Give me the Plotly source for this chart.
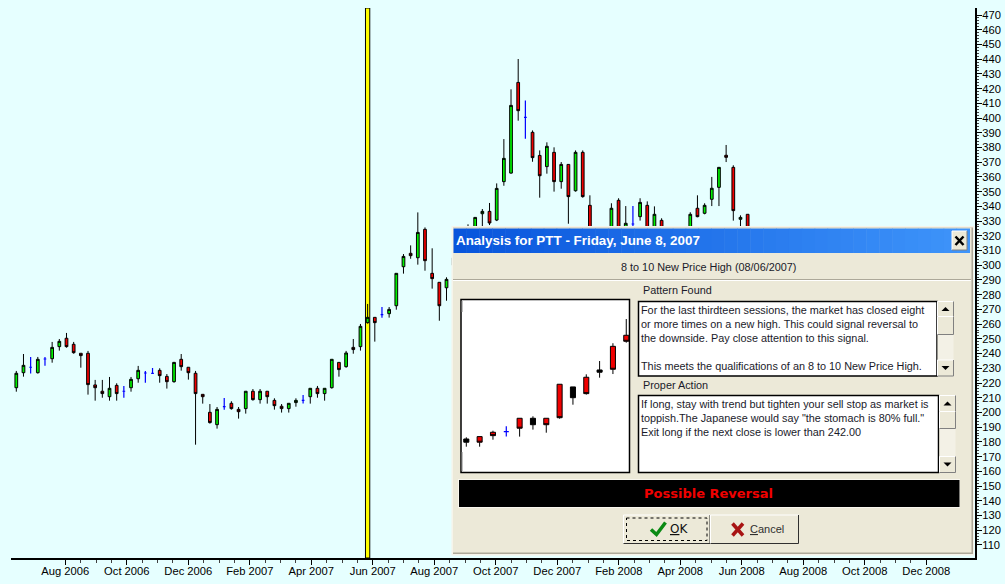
import plotly.graph_objects as go

# ---------- weekly price bars ----------
bar_open = [216.8,227.0,230.7,227.0,236.3,236.5,244.7,250.4,246.3,240.2,240.2,218.7,214.4,210.7,218.4,214.4,216.8,222.9,226.8,226.6,
            228.6,224.5,220.9,236.1,230.7,226.6,212.3,200.1,191.7,204.0,206.2,202.1,202.6,214.4,208.7,214.4,208.2,204.2,202.6,206.7,
            208.2,210.7,216.4,212.8,216.8,234.0,231.1,244.2,244.7,261.0,264.6,266.4,267.1,272.5,299.0,308.1,305.1,324.4,294.5,288.4,
            284.7,300.0,305.0,312.0,318.0,335.0,336.6,330.7,356.8,362.6,424.2,400.5,390.3,374.6,367.0,376.7,356.8,368.5,350.6,376.7,
            340.7,305.0,300.0,318.0,344.1,318.0,328.0,333.0,340.7,318.0,330.5,305.0,300.0,305.0,318.0,338.7,335.3,344.8,352.9,374.7,
            366.5,331.2,334.6]
bar_close = [226.6,232.0,230.7,236.1,236.3,244.2,248.3,244.7,240.6,238.6,218.9,216.8,212.8,216.4,212.8,214.4,222.5,228.6,226.8,226.6,
             225.0,220.9,234.0,231.1,227.0,212.8,210.7,193.1,202.1,204.0,202.6,200.5,214.4,208.7,214.4,210.7,204.6,202.6,206.2,208.2,
             208.2,216.4,212.8,216.4,236.1,229.1,240.4,242.7,258.5,264.6,261.0,266.4,270.0,294.5,306.0,306.5,322.3,303.1,290.9,272.5,
             290.4,305.0,300.0,318.0,332.5,336.6,328.7,352.2,372.6,408.6,405.0,400.5,373.1,360.8,380.8,356.8,368.5,346.6,376.7,346.6,
             320.0,300.0,305.0,338.7,315.0,328.5,328.0,342.7,318.0,334.6,318.0,300.0,305.0,310.0,334.6,333.0,340.7,352.3,366.5,373.3,
             337.1,332.5,318.0]
bar_high = [228.2,239.7,237.7,237.7,237.7,247.9,249.9,254.0,247.9,240.2,241.8,222.1,222.1,224.1,219.8,218.0,224.1,231.6,228.2,230.2,
            230.0,226.1,234.3,239.7,230.7,228.2,212.3,205.7,203.7,209.8,207.6,203.7,214.4,215.9,215.9,214.4,209.6,205.7,206.2,209.6,
            211.9,216.4,218.0,216.4,236.1,234.0,241.8,249.9,260.1,273.7,264.6,271.6,271.6,294.5,307.6,313.5,335.9,325.7,311.5,288.4,
            291.8,308.0,309.0,327.8,332.5,338.2,342.3,355.6,385.7,419.5,440.1,412.0,391.6,378.0,383.5,380.1,370.1,368.5,378.0,378.0,
            347.5,308.0,308.0,342.1,345.5,340.2,340.2,345.5,343.4,340.0,331.9,308.0,308.0,310.0,336.0,347.5,342.1,360.0,366.5,381.7,
            367.9,333.9,334.6]
bar_low = [214.1,224.3,226.4,226.4,231.8,233.8,242.0,244.0,239.9,230.4,212.1,208.0,210.0,208.0,208.0,210.0,214.1,220.2,220.2,226.4,
           220.2,216.2,220.2,228.4,222.3,178.1,206.0,192.4,189.0,201.9,201.9,195.8,199.2,208.0,206.0,206.0,201.9,199.9,199.9,203.9,
           206.0,206.0,210.0,208.0,216.2,224.3,230.4,239.9,242.0,260.3,248.1,264.4,264.4,269.8,294.3,304.4,300.4,296.3,284.1,262.3,
           275.9,295.0,295.0,305.0,314.0,325.0,327.3,330.0,354.0,362.2,398.2,386.0,370.3,345.9,362.2,350.0,352.0,328.2,350.0,345.9,
           315.0,295.0,295.0,312.0,310.0,312.0,320.0,330.3,312.0,312.0,312.0,295.0,295.0,300.0,314.0,332.6,334.6,340.2,340.2,370.1,
           330.3,320.0,314.0]

x_labels = ["Aug 2006","Oct 2006","Dec 2006","Feb 2007","Apr 2007","Jun 2007","Aug 2007","Oct 2007",
            "Dec 2007","Feb 2008","Apr 2008","Jun 2008","Aug 2008","Oct 2008","Dec 2008"]
y_labels = list(range(110, 480, 10))
marked_week = 49

# ---------- daily bars in the small pattern picture ----------
mini_open = [177.9,181.9,185.0,185.4,195.0,190.4,195.0,219.3,209.7,224.3,227.9,246.4,254.3]
mini_close = [180.2,177.9,182.6,185.4,187.9,195.0,190.4,195.4,217.4,212.6,229.5,230.0,250.0]
mini_high = [181.4,181.9,186.1,189.3,195.0,196.4,195.0,219.3,217.4,226.4,235.9,248.6,265.9]
mini_low = [174.7,174.7,179.7,181.9,181.9,186.9,184.7,194.7,204.7,211.9,224.0,226.6,249.0]

# ---------- pixel layout ----------
L, R, T, B = 11, 975, 8, 558
W, H = 1005, 584
X0, DX = 16.3, 7.17          # first bar and spacing of the weekly bars
Y0, DY = 15.0, 1.472         # pixel of 470, pixels per price unit
BG = "#E6FFFF"
PANEL = "#ECE9D8"
GREEN, RED, BLUE = "#00F000", "#F00000", "#0000FF"
CLEAR = "rgba(0,0,0,0)"


def week_at(px):
    return (px - X0) / DX


def price_at(py):
    return 470 - (py - Y0) / DY


TICK_STEP = 15.375
major_px = [65.3 + 4 * TICK_STEP * i for i in range(len(x_labels))]
minor_px = [65.3 + TICK_STEP * i for i in range(4 * (len(x_labels) - 1) + 1)]

weeks = list(range(len(bar_open)))
is_doji = [o == c for o, c in zip(bar_open, bar_close)]
body = [i for i in weeks if not is_doji[i]]
doji = [i for i in weeks if is_doji[i]]

fig = go.Figure()
fig.add_trace(go.Candlestick(
    x=body, open=[bar_open[i] for i in body], high=[bar_high[i] for i in body],
    low=[bar_low[i] for i in body], close=[bar_close[i] for i in body],
    increasing=dict(fillcolor=GREEN, line=dict(color="black", width=1)),
    decreasing=dict(fillcolor=RED, line=dict(color="black", width=1)),
    whiskerwidth=0, xaxis="x", yaxis="y", showlegend=False))
fig.add_trace(go.Candlestick(
    x=doji, open=[bar_open[i] for i in doji], high=[bar_high[i] for i in doji],
    low=[bar_low[i] for i in doji], close=[bar_close[i] for i in doji],
    increasing=dict(fillcolor=BLUE, line=dict(color=BLUE, width=1.2)),
    decreasing=dict(fillcolor=BLUE, line=dict(color=BLUE, width=1.2)),
    whiskerwidth=0, xaxis="x", yaxis="y", showlegend=False))

# pixel-space subplot that carries the dialog panel
fig.add_trace(go.Scatter(x=[L], y=[T], mode="markers", opacity=0, xaxis="x2", yaxis="y2",
                         hoverinfo="skip", showlegend=False))

# pattern picture inside the dialog
mini_all = list(range(len(mini_open)))
mini_body = [i for i in mini_all if mini_open[i] != mini_close[i]]
mini_doji = [i for i in mini_all if mini_open[i] == mini_close[i]]
fig.add_trace(go.Candlestick(
    x=mini_body, open=[mini_open[i] for i in mini_body], high=[mini_high[i] for i in mini_body],
    low=[mini_low[i] for i in mini_body], close=[mini_close[i] for i in mini_body],
    increasing=dict(fillcolor="black", line=dict(color="black", width=1)),
    decreasing=dict(fillcolor="#F00000", line=dict(color="black", width=1)),
    whiskerwidth=0, xaxis="x3", yaxis="y3", showlegend=False))
fig.add_trace(go.Candlestick(
    x=mini_doji, open=[mini_open[i] for i in mini_doji], high=[mini_high[i] for i in mini_doji],
    low=[mini_low[i] for i in mini_doji], close=[mini_close[i] for i in mini_doji],
    increasing=dict(fillcolor=BLUE, line=dict(color=BLUE, width=1.2)),
    decreasing=dict(fillcolor=BLUE, line=dict(color=BLUE, width=1.2)),
    whiskerwidth=0, xaxis="x3", yaxis="y3", showlegend=False))

shapes = []
# marker bar on the main chart, under the candles
shapes.append(dict(type="rect", xref="x", yref="y", layer="below",
                   x0=marked_week - 0.3, x1=marked_week + 0.3, y0=price_at(B), y1=price_at(T),
                   fillcolor="#FFFF00", line=dict(color="black", width=1)))


def rect(x0, y0, x1, y1, fill=None, line=None, width=1, dash=None):
    ln = dict(width=0) if line is None else dict(color=line, width=width, dash=dash or "solid")
    shapes.append(dict(type="rect", xref="x2", yref="y2", layer="below", x0=x0, y0=y0, x1=x1, y1=y1,
                       fillcolor=fill or CLEAR, line=ln))


def seg(path, color, width):
    shapes.append(dict(type="path", xref="x2", yref="y2", layer="below", path=path,
                       line=dict(color=color, width=width), fillcolor=CLEAR))


def tri(path, color):
    shapes.append(dict(type="path", xref="x2", yref="y2", layer="below", path=path,
                       line=dict(width=0), fillcolor=color))


def raised(x0, y0, x1, y1, dark="#808080", face=PANEL):
    rect(x0, y0, x1, y1, face)
    seg(f"M{x0},{y1} L{x0},{y0} L{x1},{y0}", "white", 1)
    seg(f"M{x0},{y1} L{x1},{y1} L{x1},{y0}", dark, 1)


# dialog frame
rect(451.5, 226, 974, 555.5, "#F6F4EA")
rect(453, 227.5, 973, 554, "#ACA899")
rect(453, 227.5, 971.5, 552.5, PANEL)
# title bar with a blue gradient
N = 40
c0, c1 = (8, 85, 220), (62, 148, 250)
for i in range(N):
    t = i / (N - 1)
    col = "rgb(%d,%d,%d)" % tuple(round(a + (b - a) * t) for a, b in zip(c0, c1))
    xa = 453.5 + (969.5 - 453.5) * i / N
    xb = 453.5 + (969.5 - 453.5) * (i + 1) / N
    rect(xa, 228.5, xb + 0.5, 253, col)
raised(952, 231, 967, 250)
seg("M955.5,236.5 L963.5,245 M963.5,236.5 L955.5,245", "black", 2.5)
# separator under the sub-title
seg("M453,279.5 L971,279.5", "#ACA899", 1)
seg("M453,280.5 L971,280.5", "white", 1)

# pattern picture frame
rect(461, 299.5, 629.5, 472.5, "white", "black", 1.5)
seg("M462,301 L462,312", "#808080", 1)
seg("M462,452 L462,471", "#808080", 1)

# text boxes and scroll bars
for (bx0, by0, bx1, by1, sx0, sx1, up1, th1, tr1) in [
        (638.5, 301.5, 937, 376, 937.5, 953.5, 316.5, 334.5, 360),
        (638.5, 395.5, 938.5, 472.5, 939.5, 955.5, 411.5, 428.5, 456.5)]:
    rect(bx0, by0, bx1, by1, "white", "black", 1.5)
    rect(sx0, by0, sx1, by1, "#F3F1E6")
    raised(sx0, by0, sx1, up1)
    raised(sx0, up1, sx1, th1)
    raised(sx0, tr1, sx1, by1)
    cx = (sx0 + sx1) / 2
    my = (by0 + up1) / 2
    tri(f"M{cx-4},{my+2} L{cx+4},{my+2} L{cx},{my-2} Z", "black")
    my = (tr1 + by1) / 2
    tri(f"M{cx-4},{my-2} L{cx+4},{my-2} L{cx},{my+2} Z", "black")

# signal banner
rect(458, 479, 960, 508, "#F8F6EE")
rect(459, 480, 959.5, 507, "black")

# buttons
raised(623.5, 515, 710, 543.5, dark="#303030")
raised(710.5, 515, 798.5, 543.5, dark="#303030")
rect(626.5, 518, 707, 540.5, None, "black", 1, "dot")
seg("M651,529.5 L656.5,534.5 L665.5,522.5", "#0A8A14", 3.5)
seg("M732.5,523.5 L743,535.5 M743,523.5 L732.5,535.5", "#A81414", 3.5)

UI = "Liberation Sans"
TXT = "#1A1A2A"
BODY = 10.85
texts = [
    (455, 240, "<b>Analysis for PTT - Friday, June 8, 2007</b>", 13.4, "white", "left", UI),
    (708.5, 267, "8 to 10 New Price High (08/06/2007)", 10.85, TXT, "center", UI),
    (642, 290, "Pattern Found", BODY, TXT, "left", UI),
    (640, 310, "For the last thirdteen sessions, the market has closed eight", BODY, TXT, "left", UI),
    (640, 324, "or more times on a new high. This could signal reversal to", BODY, TXT, "left", UI),
    (640, 338, "the downside. Pay close attention to this signal.", BODY, TXT, "left", UI),
    (640, 366, "This meets the qualifications of an 8 to 10 New Price High.", BODY, TXT, "left", UI),
    (642, 385, "Proper Action", BODY, TXT, "left", UI),
    (640, 404, "If long, stay with trend but tighten your sell stop as market is", BODY, TXT, "left", UI),
    (640, 418, "toppish.The Japanese would say \"the stomach is 80% full.\"", BODY, TXT, "left", UI),
    (640, 432, "Exit long if the next close is lower than 242.00", BODY, TXT, "left", UI),
    (708, 493.5, "<b>Possible Reversal</b>", 13, "#F00000", "center", "DejaVu Sans"),
    (678.5, 529, "<u>O</u>K", 12, "#101010", "center", "DejaVu Sans"),
    (766.5, 529, "<u>C</u>ancel", 11, "#303030", "center", UI),
]
annotations = [dict(x=x, y=y, xref="x2", yref="y2", text=t, showarrow=False, xanchor=a, yanchor="middle",
                    font=dict(size=s, color=c, family=f), borderpad=0)
               for x, y, t, s, c, a, f in texts]

fig.update_layout(
    width=W, height=H, autosize=False,
    margin=dict(l=L, r=W - R, t=T, b=H - B, pad=0, autoexpand=False),
    paper_bgcolor=BG, plot_bgcolor=CLEAR,
    boxgap=0.46,
    font=dict(family="Liberation Sans", size=11, color="black"),
    showlegend=False, shapes=shapes, annotations=annotations,
    xaxis=dict(range=[week_at(L), week_at(R)], domain=[0, 1], anchor="y", showgrid=False, zeroline=False,
               rangeslider=dict(visible=False),
               tickmode="array", tickvals=[week_at(p) for p in major_px], ticktext=x_labels,
               ticks="outside", ticklen=5, tickwidth=1, tickcolor="black", tickangle=0,
               ticklabelstandoff=-3,
               showline=True, linecolor="black", linewidth=2,
               tickfont=dict(family="Liberation Sans", size=11.2, color="black"),
               minor=dict(tickmode="array", tickvals=[week_at(p) for p in minor_px],
                          ticks="outside", ticklen=3, tickwidth=1, tickcolor="#404040", showgrid=False)),
    yaxis=dict(range=[price_at(B), price_at(T)], domain=[0, 1], anchor="x", side="right", showgrid=False,
               zeroline=False, tickmode="array", tickvals=y_labels, ticktext=[str(v) for v in y_labels],
               ticks="outside", ticklen=5, tickwidth=1, tickcolor="black",
               ticklabelstandoff=-2,
               showline=True, linecolor="black", linewidth=2,
               tickfont=dict(family="Liberation Sans", size=11.2, color="black"),
               minor=dict(tickmode="array", tickvals=list(range(110, 472, 2)),
                          ticks="outside", ticklen=2, tickwidth=1, tickcolor="#404040", showgrid=False)),
    xaxis2=dict(range=[L, R], domain=[0, 1], anchor="y2", visible=False, fixedrange=True),
    yaxis2=dict(range=[B, T], domain=[0, 1], anchor="x2", visible=False, fixedrange=True),
    xaxis3=dict(range=[(460.7 - 466.3) / 13.33, (629.3 - 466.3) / 13.33],
                domain=[(460.7 - L) / (R - L), (629.3 - L) / (R - L)],
                anchor="y3", visible=False, fixedrange=True, rangeslider=dict(visible=False)),
    yaxis3=dict(range=[156.4, 280.0],
                domain=[(B - 472.3) / (B - T), (B - 299.3) / (B - T)],
                anchor="x3", visible=False, fixedrange=True),
)

fig.write_html("out.html", config=dict(displayModeBar=False),
               post_script=f"document.body.style.margin='0';document.body.style.background='{BG}';")
